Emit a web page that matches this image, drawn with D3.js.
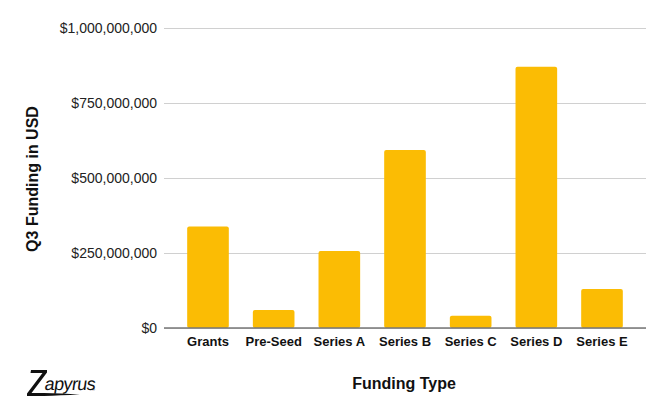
<!DOCTYPE html>
<html>
<head>
<meta charset="utf-8">
<script src="https://cdn.jsdelivr.net/npm/d3@7"></script>
<style>
  body { margin: 0; background: #fff; }
  svg { display: block; font-family: "Liberation Sans", Arial, sans-serif; }
</style>
</head>
<body>
<svg id="chart" width="666" height="412"></svg>
<script>
var width = 666,
    height = 412;

// Q3 funding per round type
const categories = ["Grants", "Pre-Seed", "Series A", "Series B", "Series C", "Series D", "Series E"];
const funding = [338000000, 60000000, 257000000, 593000000, 41000000, 871000000, 130000000];
const yTicks = [0, 250000000, 500000000, 750000000, 1000000000];

const svg = d3.select("#chart");

const x = d3.scaleBand()
    .domain(categories)
    .range([164, 646])
    .paddingInner(0.366)
    .paddingOuter(0.353);

const y = d3.scaleLinear()
    .domain([0, 1000000000])
    .range([328, 28]);

const fmt = d3.format("$,");

// Gridlines + tick labels
const yAxis = d3.axisLeft(y)
    .tickValues(yTicks)
    .tickSize(-(646 - 164))
    .tickPadding(7)
    .tickFormat(function (d) { return fmt(d); });

const gy = svg.append("g")
    .attr("transform", "translate(164,0)")
    .call(yAxis);
gy.select(".domain").remove();
gy.selectAll(".tick line").attr("stroke", "#d0d0d0");
gy.selectAll(".tick text")
    .attr("fill", "#222")
    .attr("font-size", 14);

// Bars
svg.append("g")
    .selectAll("rect")
    .data(categories)
    .join("rect")
    .attr("x", function (d) { return x(d); })
    .attr("y", function (d, i) { return y(funding[i]); })
    .attr("width", x.bandwidth())
    .attr("height", function (d, i) { return y(0) - y(funding[i]); })
    .attr("rx", 2)
    .attr("fill", "#fbbc04");

// Baseline
svg.append("line")
    .attr("x1", 164).attr("x2", 646)
    .attr("y1", y(0)).attr("y2", y(0))
    .attr("stroke", "#777")
    .attr("stroke-width", 1.3);

// Category labels
const xAxis = d3.axisBottom(x).tickSize(0).tickPadding(9);
const gx = svg.append("g")
    .attr("transform", "translate(0," + y(0) + ")")
    .call(xAxis);
gx.select(".domain").remove();
gx.selectAll(".tick text")
    .attr("fill", "#111")
    .attr("font-size", 13)
    .attr("font-weight", "bold");

// Axis titles
svg.append("text")
    .attr("x", 404)
    .attr("y", 389)
    .attr("text-anchor", "middle")
    .attr("font-size", 16)
    .attr("font-weight", "bold")
    .attr("fill", "#111")
    .text("Funding Type");

svg.append("text")
    .attr("transform", "translate(38,179) rotate(-90)")
    .attr("text-anchor", "middle")
    .attr("font-size", 16)
    .attr("font-weight", "bold")
    .attr("fill", "#111")
    .text("Q3 Funding in USD");

// Logo
const logo = svg.append("g");
logo.append("path")
    .attr("d", "M31,370 L47,370 L47,372.5 L31.5,393 L44,393 Q60,393.2 80,394.6 Q60,395.6 44,396 L27,396 L27,393.5 L42.5,373 L30.5,373 Z")
    .attr("fill", "#111");
logo.append("text")
    .attr("transform", "translate(44,390) skewX(-8)")
    .attr("font-size", 18)
    .attr("fill", "#111")
    .attr("letter-spacing", -0.6)
    .text("apyrus");
logo.append("text")
    .attr("x", 92)
    .attr("y", 391)
    .attr("font-size", 4)
    .attr("fill", "#111")
    .text("®");
</script>
</body>
</html>
